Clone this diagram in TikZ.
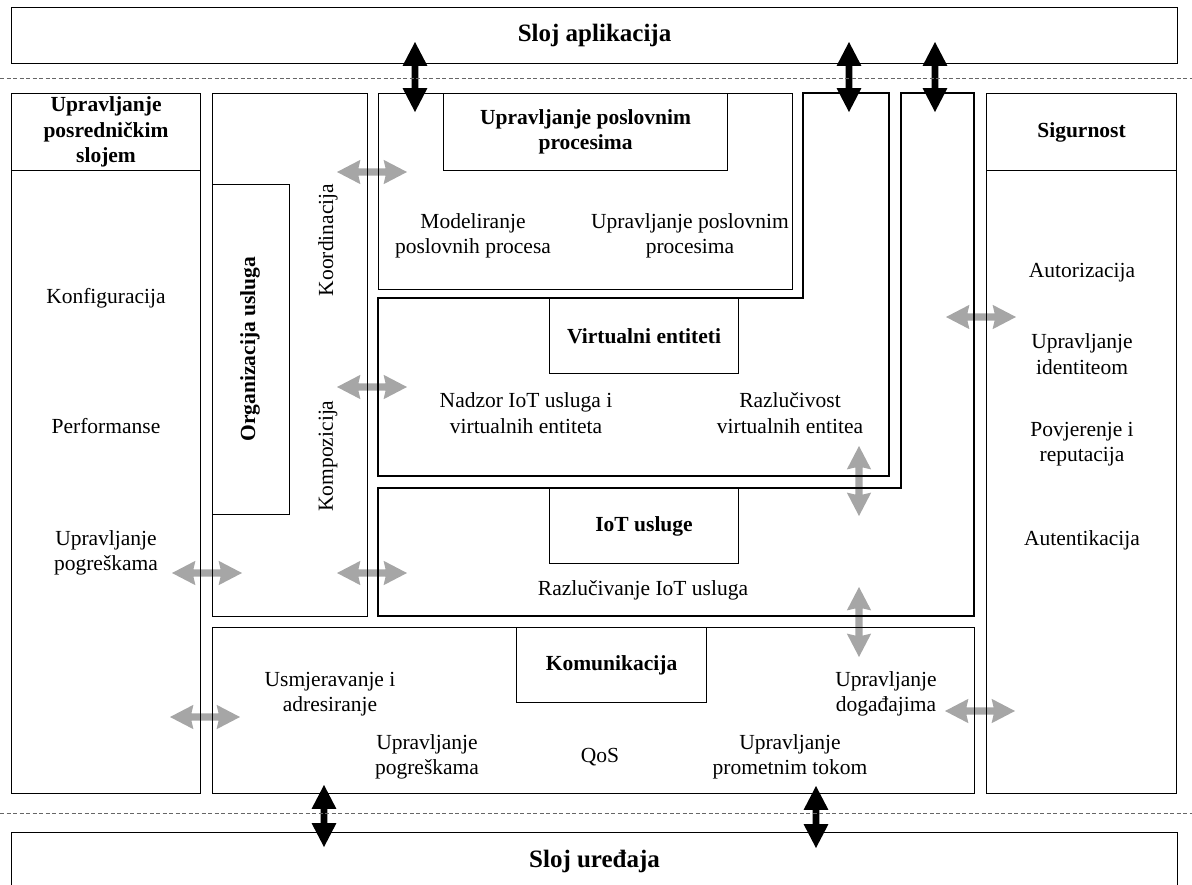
\documentclass[tikz,border=0pt]{standalone}
\usepackage{fontspec}
\setmainfont{Liberation Serif}
\usetikzlibrary{shapes.arrows}
\tikzset {
    x=1pt, y=-1pt,
    block/.style={draw, line width=1.1pt, anchor=north west, inner sep=0pt, align=center},
    wall/.style={draw, line width=1.1pt},
    sep/.style={draw=black!60, line width=0.8pt, dash pattern=on 4pt off 2.5pt},
    caption/.style={font=\fontsize{21.5}{25.5}\selectfont, align=center, inner sep=0pt},
    heading/.style={font=\fontsize{21.5}{25.5}\selectfont\bfseries},
    layer/.style={font=\fontsize{25}{30}\selectfont\bfseries},
    darr/.style={shape=double arrow, fill=black, inner sep=3.2pt, minimum height=70pt,
        double arrow head extend=9pt, double arrow tip angle=55},
    garr/.style={shape=double arrow, fill=gray!70, inner sep=3.5pt, minimum height=70pt,
        double arrow head extend=8.5pt, double arrow tip angle=55, double arrow head indent=2pt}
}

\begin{document}
\begin{tikzpicture}
    \useasboundingbox (0,0) rectangle (1192,884);
    \clip (0,0) rectangle (1192,884);

    % strelice
    \node[garr] (g1) at (372,172) {};
    \node[garr] (g2) at (372,387) {};
    \node[garr] (g3) at (207,573) {};
    \node[garr] (g4) at (372,573) {};
    \node[garr] (g5) at (205,717) {};
    \node[garr] (g6) at (981,317) {};
    \node[garr] (g7) at (980,711) {};
    \node[garr, rotate=90] (g8) at (859,481) {};
    \node[garr, rotate=90] (g9) at (859,622) {};
    \node[darr, rotate=90] (b1) at (415,77) {};
    \node[darr, rotate=90] (b2) at (849,77) {};
    \node[darr, rotate=90] (b3) at (935,77) {};
    \node[darr, rotate=90, minimum height=62pt] (b4) at (324,816) {};
    \node[darr, rotate=90, minimum height=62pt] (b5) at (816,817) {};

    % slojevi
    \node[block, layer, minimum width=1166pt, minimum height=56pt] (app) at (11,7) {Sloj aplikacija};
    \node[block, layer, minimum width=1166pt, minimum height=58pt] (dev) at (11,832) {Sloj uređaja};
    \draw[sep] (0,78) -- (1192,78);
    \draw[sep] (0,813) -- (1192,813);

    % upravljanje posredničkim slojem
    \node[block, minimum width=189pt, minimum height=700pt] (mw) at (11,93) {};
    \node[block, heading, minimum width=189pt, minimum height=77pt] (mwh) at (11,93) {Upravljanje\\posredničkim\\slojem};
    \node[caption] (konf) at (106,298) {Konfiguracija};
    \node[caption] (perf) at (106,426) {Performanse};
    \node[caption] (mwerr) at (106,553) {Upravljanje\\pogreškama};

    % organizacija usluga
    \node[block, minimum width=155pt, minimum height=523pt] (org) at (212,93) {};
    \node[block, minimum width=77pt, minimum height=330pt] (orgh) at (212,184) {};
    \node[heading, rotate=90] (orgt) at (250,349) {Organizacija usluga};
    \node[caption, rotate=90] (koord) at (328,240) {Koordinacija};
    \node[caption, rotate=90] (komp) at (328,456) {Kompozicija};

    % poslovni procesi
    \node[block, minimum width=414pt, minimum height=196pt] (bpm) at (378,93) {};
    \node[block, heading, minimum width=284pt, minimum height=77pt] (bpmh) at (443,93) {Upravljanje poslovnim\\procesima};
    \node[caption] (model) at (473,236) {Modeliranje\\poslovnih procesa};
    \node[caption] (bpmu) at (690,236) {Upravljanje poslovnim\\procesima};

    % virtualni entiteti
    \draw[wall] (378,298) -- (803,298) -- (803,93) -- (889,93) -- (889,476) -- (378,476) -- cycle;
    \node[block, heading, minimum width=189pt, minimum height=75pt] (veh) at (549,298) {Virtualni entiteti};
    \node[caption] (nadzor) at (526,413) {Nadzor IoT usluga i\\virtualnih entiteta};
    \node[caption] (razlve) at (790,413) {Razlučivost\\virtualnih entitea};

    % IoT usluge
    \draw[wall] (378,488) -- (901,488) -- (901,93) -- (974,93) -- (974,616) -- (378,616) -- cycle;
    \node[block, heading, minimum width=189pt, minimum height=75pt] (ioth) at (549,488) {IoT usluge};
    \node[caption] (razliot) at (643,590) {Razlučivanje IoT usluga};

    % komunikacija
    \node[block, minimum width=762pt, minimum height=166pt] (kom) at (212,627) {};
    \node[block, heading, minimum width=190pt, minimum height=75pt] (komh) at (516,627) {Komunikacija};
    \node[caption] (usmj) at (330,694) {Usmjeravanje i\\adresiranje};
    \node[caption] (komerr) at (427,757) {Upravljanje\\pogreškama};
    \node[caption] (qos) at (600,757) {QoS};
    \node[caption] (promet) at (790,757) {Upravljanje\\prometnim tokom};
    \node[caption] (dog) at (886,694) {Upravljanje\\događajima};

    % sigurnost
    \node[block, minimum width=190pt, minimum height=700pt] (sec) at (986,93) {};
    \node[block, heading, minimum width=190pt, minimum height=77pt] (sech) at (986,93) {Sigurnost};
    \node[caption] (autor) at (1082,273) {Autorizacija};
    \node[caption] (ident) at (1082,354) {Upravljanje\\identiteom};
    \node[caption] (povj) at (1082,444) {Povjerenje i\\reputacija};
    \node[caption] (auten) at (1082,540) {Autentikacija};
\end{tikzpicture}
\end{document}
